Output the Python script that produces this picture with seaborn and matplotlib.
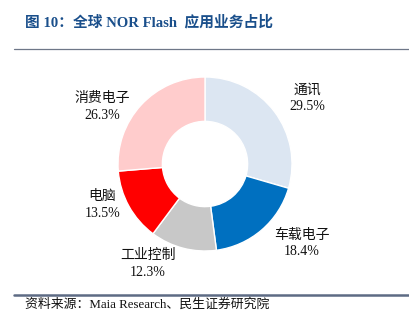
import matplotlib
matplotlib.use("Agg")
import matplotlib.pyplot as plt
import seaborn as sns

# Application share of global NOR Flash
categories = ["通讯", "车载电子", "工业控制", "电脑", "消费电子"]
shares = [29.5, 18.4, 12.3, 13.5, 26.3]
colors = ["#DCE6F2", "#0070C0", "#C8C8C8", "#FF0000", "#FFCCCC"]

title_text = "图 10：全球 NOR Flash  应用业务占比"
source_text = "资料来源：Maia Research、民生证券研究院"

sns.set_theme(style="white")
fonts = ["Liberation Serif", "Noto Sans CJK SC", "DejaVu Sans"]
plt.rcParams["font.family"] = fonts

W, H = 409, 329
fig = plt.figure(figsize=(W / 100, H / 100), dpi=100)
fig.patch.set_facecolor("white")

# donut axes: centre (205,164) px, radius 87 px
cx, cy, r = 205, 164, 87
ax = fig.add_axes([(cx - r) / W, (H - cy - r) / H, 2 * r / W, 2 * r / H])
ax.pie(shares, colors=colors, startangle=90, counterclock=False, radius=1,
       wedgeprops=dict(width=0.51, edgecolor="white", linewidth=1))
ax.set_xlim(-1, 1)
ax.set_ylim(-1, 1)
ax.set_aspect("equal")
ax.axis("off")

# label positions in units of the outer radius
label_pos = [(1.18, 0.75), (1.115, -0.91), (-0.655, -1.15), (-1.18, -0.47), (-1.18, 0.655)]
for name, val, (x, y) in zip(categories, shares, label_pos):
    ax.text(x, y, f"{name}\n{val:.1f}%", ha="center", va="center",
            fontsize=10, color="#111111", linespacing=1.35, clip_on=False,
            family=fonts)

# header and footer
fig.text(25 / W, 1 - 22 / H, title_text, ha="left", va="center",
         fontsize=10.6, fontweight="bold", color="#1A4F8B", family=fonts)
fig.add_artist(plt.Line2D([14 / W, 1], [1 - 49 / H, 1 - 49 / H],
                          color="#6E7788", linewidth=0.9))
fig.add_artist(plt.Line2D([14 / W, 1], [1 - 295 / H, 1 - 295 / H],
                          color="#5D6B84", linewidth=1.8))
fig.text(25 / W, 1 - 305 / H, source_text, ha="left", va="center",
         fontsize=9.3, color="#111111", family=fonts)

fig.savefig("out.png", dpi=100, facecolor="white")
